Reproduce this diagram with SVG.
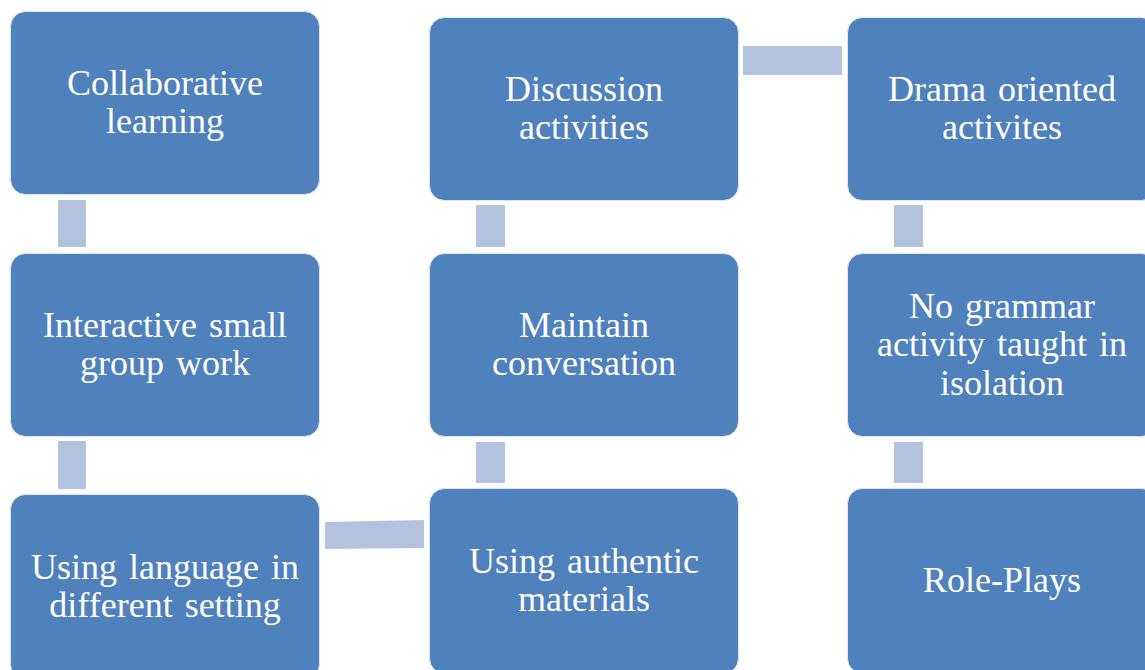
<svg xmlns="http://www.w3.org/2000/svg" width="1145" height="670" viewBox="0 0 1145 670">
<style>
.box{fill:#4F81BD;stroke:#DDE5F1;stroke-width:1}
.lbl{font-family:'Liberation Serif','Times New Roman',Times,serif;font-size:36px;fill:#FFFFFF;text-anchor:middle;word-spacing:3px}
.con{fill:#B3C2DE}
</style>
<rect width="1145" height="670" fill="#FFFFFF"/>
<g id="connectors">
<rect class="con" x="58" y="200" width="28" height="47"/>
<rect class="con" x="58" y="441" width="28" height="48"/>
<polygon class="con" points="325,522 424,520 424,548 325,549"/>
<rect class="con" x="476" y="442" width="29" height="41"/>
<rect class="con" x="476" y="205" width="29" height="42"/>
<rect class="con" x="743" y="46" width="99" height="29"/>
<rect class="con" x="894" y="205" width="29" height="42"/>
<rect class="con" x="894" y="442" width="29" height="41"/>
</g>
<g id="n1">
<rect class="box" x="10.5" y="11.5" width="309" height="183" rx="15"/>
<text class="lbl" font-family="Liberation Serif" x="165" y="95">Collaborative</text>
<text class="lbl" font-family="Liberation Serif" x="165" y="133">learning</text>
</g>
<g id="n2">
<rect class="box" x="10.5" y="253.5" width="309" height="183" rx="15"/>
<text class="lbl" x="165" y="337">Interactive small</text>
<text class="lbl" x="165" y="375">group work</text>
</g>
<g id="n3">
<rect class="box" x="10.5" y="494.5" width="309" height="185" rx="15"/>
<text class="lbl" x="165" y="579">Using language in</text>
<text class="lbl" x="165" y="617">different setting</text>
</g>
<g id="n4">
<rect class="box" x="429.5" y="488.5" width="309" height="185" rx="15"/>
<text class="lbl" x="584" y="573">Using authentic</text>
<text class="lbl" x="584" y="611">materials</text>
</g>
<g id="n5">
<rect class="box" x="429.5" y="253.5" width="309" height="183" rx="15"/>
<text class="lbl" x="584" y="337">Maintain</text>
<text class="lbl" x="584" y="375">conversation</text>
</g>
<g id="n6">
<rect class="box" x="429.5" y="17.5" width="309" height="183" rx="15"/>
<text class="lbl" x="584" y="101">Discussion</text>
<text class="lbl" x="584" y="139">activities</text>
</g>
<g id="n7">
<rect class="box" x="847.5" y="17.5" width="309" height="183" rx="15"/>
<text class="lbl" x="1002" y="101">Drama oriented</text>
<text class="lbl" x="1002" y="139">activites</text>
</g>
<g id="n8">
<rect class="box" x="847.5" y="253.5" width="309" height="183" rx="15"/>
<text class="lbl" x="1002" y="318">No grammar</text>
<text class="lbl" x="1002" y="356">activity taught in</text>
<text class="lbl" x="1002" y="395">isolation</text>
</g>
<g id="n9">
<rect class="box" x="847.5" y="488.5" width="309" height="185" rx="15"/>
<text class="lbl" x="1002" y="592">Role-Plays</text>
</g>
</svg>
